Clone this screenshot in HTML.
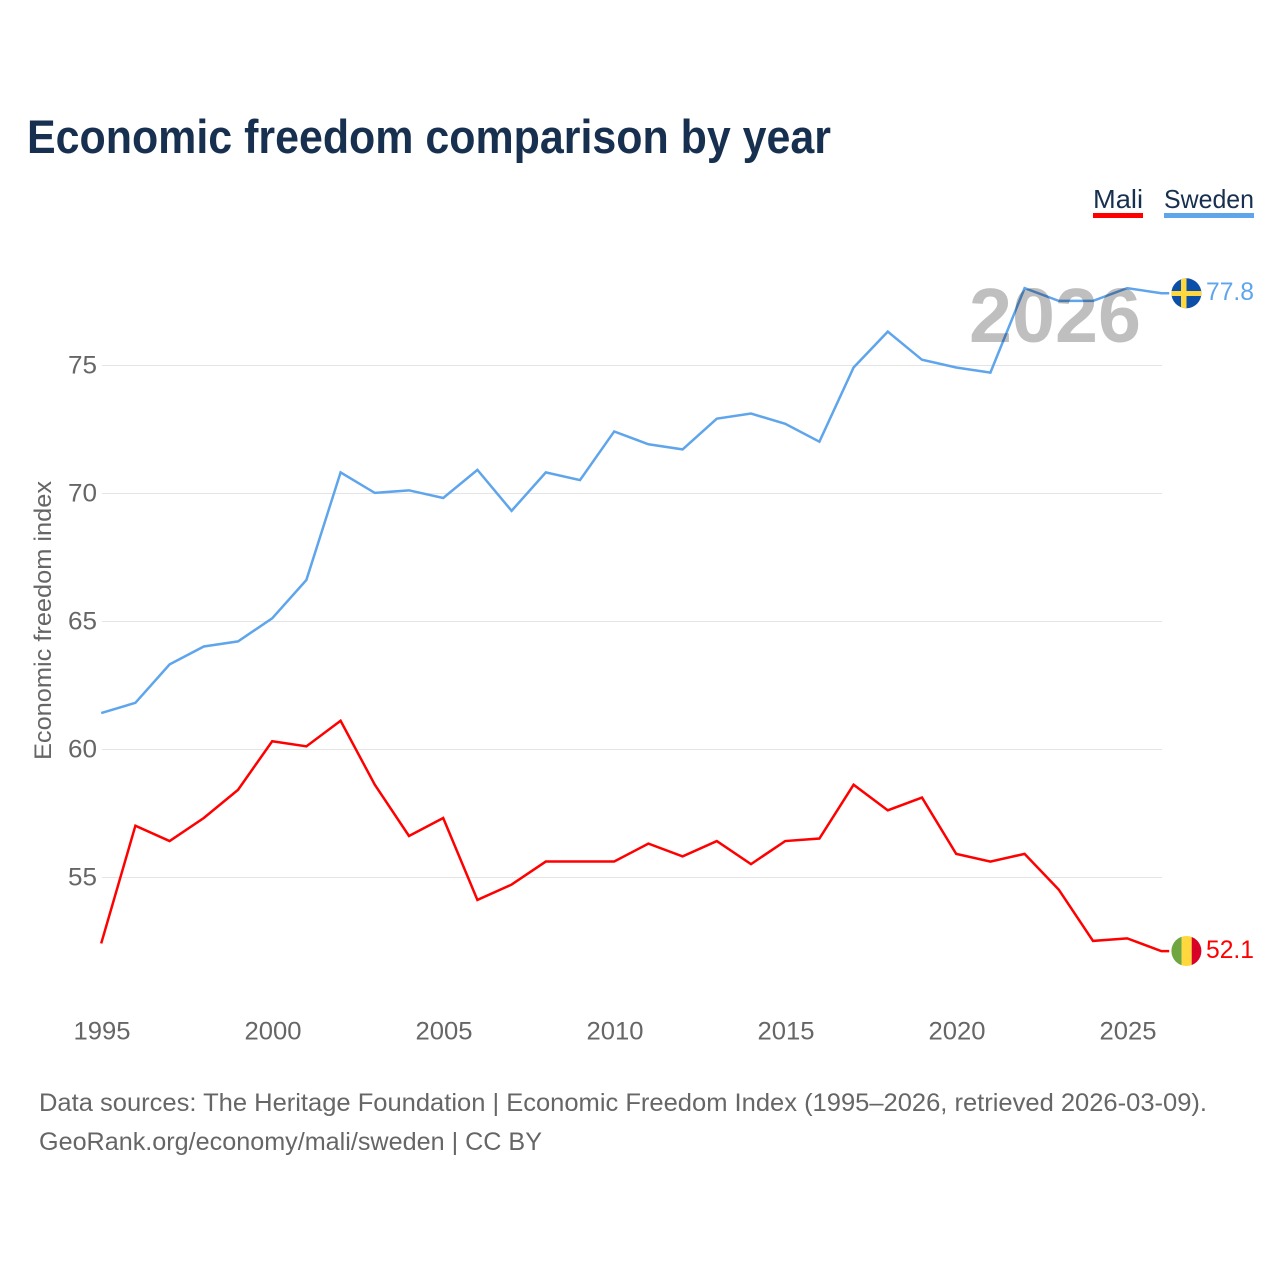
<!DOCTYPE html>
<html lang="en">
<head>
<meta charset="utf-8">
<title>Economic freedom comparison by year</title>
<style>
html,body{margin:0;padding:0;background:#fff;width:1280px;height:1280px;overflow:hidden}
svg{display:block}
text{font-family:"Liberation Sans",sans-serif}
</style>
</head>
<body>
<svg id="chart" xmlns="http://www.w3.org/2000/svg" width="1280" height="1280" viewBox="0 0 1280 1280">
  <rect width="1280" height="1280" fill="#fff"/>
  <text x="27" y="153" font-size="47" font-weight="700" fill="#18304f" textLength="804" lengthAdjust="spacingAndGlyphs">Economic freedom comparison by year</text>

  <g>
    <text x="1093" y="208" font-size="26" fill="#18304f" textLength="50" lengthAdjust="spacingAndGlyphs">Mali</text>
    <rect x="1093" y="213" width="50" height="5" fill="#ff0000"/>
  </g>
  <g>
    <text x="1164" y="208" font-size="26" fill="#18304f" textLength="90" lengthAdjust="spacingAndGlyphs">Sweden</text>
    <rect x="1164" y="213" width="90" height="5" fill="#5fa5ec"/>
  </g>

  <text transform="translate(51,760) rotate(-90)" font-size="24" fill="#666666" textLength="279" lengthAdjust="spacingAndGlyphs">Economic freedom index</text>

  <g id="grid"></g>
  <g id="yticks"></g>
  <g id="xticks"></g>
  <g id="series"></g>

  <text x="969" y="342" font-size="77" font-weight="700" fill="#000" fill-opacity="0.25" textLength="172" lengthAdjust="spacingAndGlyphs">2026</text>

  <defs>
    <clipPath id="clip-se"><circle cx="1186.4" cy="293.3" r="15"/></clipPath>
    <clipPath id="clip-ml"><circle cx="1186.4" cy="951" r="15"/></clipPath>
  </defs>
  <g id="flag-sweden" clip-path="url(#clip-se)">
    <rect x="1171" y="278" width="31" height="31" fill="#0b4fa8"/>
    <rect x="1181" y="278" width="5.5" height="31" fill="#ffd83d"/>
    <rect x="1171" y="291" width="31" height="5" fill="#ffd83d"/>
  </g>
  <g id="flag-mali" clip-path="url(#clip-ml)">
    <rect x="1171" y="936" width="10.7" height="30" fill="#6fa63f"/>
    <rect x="1181.7" y="936" width="10" height="30" fill="#ffd83d"/>
    <rect x="1191.7" y="936" width="10" height="30" fill="#d80027"/>
  </g>
  <text id="end-sweden" x="1206" y="300" font-size="25" fill="#5fa5ec" textLength="48" lengthAdjust="spacingAndGlyphs"></text>
  <text id="end-mali" x="1206" y="958" font-size="25" fill="#ff0000" textLength="48" lengthAdjust="spacingAndGlyphs"></text>

  <text x="39" y="1111" font-size="25" fill="#666666" textLength="1168" lengthAdjust="spacingAndGlyphs">Data sources: The Heritage Foundation | Economic Freedom Index (1995–2026, retrieved 2026-03-09).</text>
  <text x="39" y="1150" font-size="25" fill="#666666" textLength="503" lengthAdjust="spacingAndGlyphs">GeoRank.org/economy/mali/sweden | CC BY</text>
</svg>
<script>
const years = [1995,1996,1997,1998,1999,2000,2001,2002,2003,2004,2005,2006,2007,2008,2009,2010,2011,2012,2013,2014,2015,2016,2017,2018,2019,2020,2021,2022,2023,2024,2025,2026];
const sweden = [61.4,61.8,63.3,64.0,64.2,65.1,66.6,70.8,70.0,70.1,69.8,70.9,69.3,70.8,70.5,72.4,71.9,71.7,72.9,73.1,72.7,72.0,74.9,76.3,75.2,74.9,74.7,78.0,77.5,77.5,78.0,77.8];
const mali = [52.4,57.0,56.4,57.3,58.4,60.3,60.1,61.1,58.6,56.6,57.3,54.1,54.7,55.6,55.6,55.6,56.3,55.8,56.4,55.5,56.4,56.5,58.6,57.6,58.1,55.9,55.6,55.9,54.5,52.5,52.6,52.1];
const yTickValues = [55,60,65,70,75];
const xTickValues = [1995,2000,2005,2010,2015,2020,2025];

const NS = 'http://www.w3.org/2000/svg';
function xScale(year){ return 102 + (year - 1995) * 34.2; }
function yScale(v){ return 877.5 - (v - 55) * 25.6; }

const gridG = document.getElementById('grid');
const yG = document.getElementById('yticks');
const xG = document.getElementById('xticks');
const seriesG = document.getElementById('series');

yTickValues.forEach(function(v){
  const line = document.createElementNS(NS,'line');
  
  
  line.setAttribute('x1', xScale(1995));
  line.setAttribute('x2', xScale(2026));
  line.setAttribute('y1', yScale(v));
  line.setAttribute('y2', yScale(v));
  line.setAttribute('stroke', '#e4e4e4');
  line.setAttribute('stroke-width', '1');
  gridG.appendChild(line);
  const t = document.createElementNS(NS,'text');
  
  
  t.setAttribute('x', 97);
  t.setAttribute('y', yScale(v) + 8);
  t.setAttribute('text-anchor', 'end');
  t.setAttribute('font-size', '25');
  t.setAttribute('fill', '#666666');
  t.setAttribute('textLength', '29');
  t.setAttribute('lengthAdjust', 'spacingAndGlyphs');
  t.textContent = v;
  yG.appendChild(t);
});

xTickValues.forEach(function(year){
  const t = document.createElementNS(NS,'text');
  
  
  t.setAttribute('x', xScale(year));
  t.setAttribute('y', 1039.5);
  t.setAttribute('text-anchor', 'middle');
  t.setAttribute('font-size', '25');
  t.setAttribute('fill', '#666666');
  t.setAttribute('textLength', '57');
  t.setAttribute('lengthAdjust', 'spacingAndGlyphs');
  t.textContent = year;
  xG.appendChild(t);
});

function drawSeries(values, color, name){
  let d = '';
  values.forEach(function(v, i){
    d += (i ? 'L' : 'M') + (xScale(years[i]) - 0.8).toFixed(2) + ' ' + (yScale(v) - 0.6).toFixed(2);
  });
  d += 'L' + (xScale(years[years.length - 1]) + 7) + ' ' + (yScale(values[values.length - 1]) - 0.6).toFixed(2);
  const p = document.createElementNS(NS,'path');
  
  
  p.setAttribute('d', d);
  p.setAttribute('fill', 'none');
  p.setAttribute('stroke', color);
  p.setAttribute('stroke-width', '2.5');
  p.setAttribute('stroke-linejoin', 'miter');
  seriesG.appendChild(p);
}
drawSeries(sweden, '#5fa5ec', 'sweden-line');
drawSeries(mali, '#ff0000', 'mali-line');

document.getElementById('end-sweden').textContent = sweden[sweden.length - 1].toFixed(1);
document.getElementById('end-mali').textContent = mali[mali.length - 1].toFixed(1);
</script>
</body>
</html>
